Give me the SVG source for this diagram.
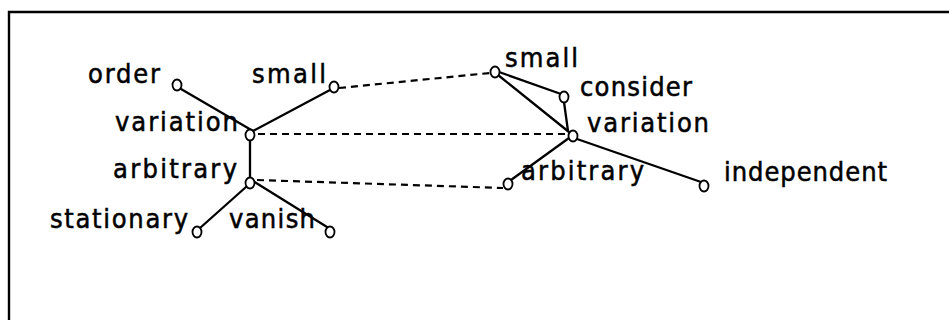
<svg xmlns="http://www.w3.org/2000/svg" width="949" height="320" viewBox="0 0 949 320">
  <style>
    .frame { fill: none; stroke: #000; stroke-width: 2.4; }
    .edge { stroke: #000; stroke-width: 2.3; fill: none; stroke-linecap: round; }
    .link { stroke: #000; stroke-width: 2.2; fill: none; stroke-dasharray: 7 5; }
    .node ellipse { fill: #fff; stroke: #000; stroke-width: 1.8; }
    .node text { font-family: "DejaVu Sans Condensed", "DejaVu Sans", "Liberation Sans", sans-serif; font-size: 27px; fill: #000; stroke: #000; stroke-width: 0.5; }
  </style>
  <rect width="949" height="320" fill="#fff"/>
  <path class="frame" d="M9,320 V12 H949"/>

  <g id="connectors">
    <!-- left cluster -->
    <line class="edge" x1="181" y1="89" x2="253" y2="131"/>
    <line class="edge" x1="330" y1="90" x2="253" y2="131"/>
    <line class="edge" x1="250" y1="140" x2="250" y2="178"/>
    <line class="edge" x1="246" y1="187" x2="200" y2="228"/>
    <line class="edge" x1="253" y1="181" x2="327" y2="227"/>
    <!-- right cluster -->
    <line class="edge" x1="499" y1="72" x2="561" y2="94"/>
    <line class="edge" x1="498" y1="75" x2="569" y2="132"/>
    <line class="edge" x1="564" y1="102" x2="568" y2="131"/>
    <line class="edge" x1="569" y1="138" x2="511" y2="180"/>
    <line class="edge" x1="577" y1="139" x2="701" y2="182"/>
    <!-- cross links -->
    <line class="link" x1="339" y1="88" x2="490" y2="73"/>
    <line class="link" x1="258" y1="134" x2="566" y2="134"/>
    <line class="link" x1="257" y1="180" x2="503" y2="188"/>
  </g>

  <g id="n-order" class="node">
    <ellipse cx="177" cy="85" rx="4.5" ry="5.5"/>
    <text x="88" y="83" textLength="72" lengthAdjust="spacing">order</text>
  </g>
  <g id="n-small-left" class="node">
    <ellipse cx="334" cy="87" rx="4.5" ry="5.5"/>
    <text x="252" y="83" textLength="74" lengthAdjust="spacing">small</text>
  </g>
  <g id="n-variation-left" class="node">
    <ellipse cx="250" cy="135" rx="4.5" ry="5.5"/>
    <text x="115" y="131" textLength="123" lengthAdjust="spacing">variation</text>
  </g>
  <g id="n-arbitrary-left" class="node">
    <ellipse cx="250" cy="183" rx="4.5" ry="5.5"/>
    <text x="113" y="178" textLength="124" lengthAdjust="spacing">arbitrary</text>
  </g>
  <g id="n-stationary" class="node">
    <ellipse cx="197" cy="232" rx="4.5" ry="5.5"/>
    <text x="50" y="228" textLength="138" lengthAdjust="spacing">stationary</text>
  </g>
  <g id="n-vanish" class="node">
    <ellipse cx="330" cy="232" rx="4.5" ry="5.5"/>
    <text x="229" y="228" textLength="86" lengthAdjust="spacing">vanish</text>
  </g>
  <g id="n-small-right" class="node">
    <ellipse cx="495" cy="72" rx="4.5" ry="5.5"/>
    <text x="505" y="67" textLength="73" lengthAdjust="spacing">small</text>
  </g>
  <g id="n-consider" class="node">
    <ellipse cx="564" cy="97" rx="4.5" ry="5.5"/>
    <text x="580" y="96" textLength="112" lengthAdjust="spacing">consider</text>
  </g>
  <g id="n-variation-right" class="node">
    <ellipse cx="573" cy="136" rx="4.5" ry="5.5"/>
    <text x="587" y="132" textLength="122" lengthAdjust="spacing">variation</text>
  </g>
  <g id="n-arbitrary-right" class="node">
    <ellipse cx="508" cy="184" rx="4.5" ry="5.5"/>
    <text x="521" y="180" textLength="123" lengthAdjust="spacing">arbitrary</text>
  </g>
  <g id="n-independent" class="node">
    <ellipse cx="704" cy="186" rx="4.5" ry="5.5"/>
    <text x="724" y="181" textLength="163" lengthAdjust="spacing">independent</text>
  </g>
</svg>
